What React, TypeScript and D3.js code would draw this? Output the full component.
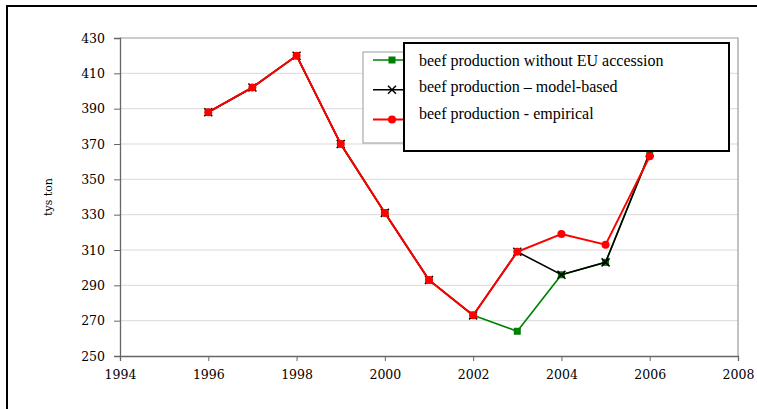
import React, { useRef, useEffect } from 'react';
import * as d3 from 'd3';

// years and series values (tys ton)
const years = [1996, 1997, 1998, 1999, 2000, 2001, 2002, 2003, 2004, 2005, 2006];
const withoutEU = [388, 402, 420, 370, 331, 293, 273, 264, 296, 303, 365];
const modelBased = [388, 402, 420, 370, 331, 293, 273, 309, 296, 303, 365];
const empirical = [388, 402, 420, 370, 331, 293, 273, 309, 319, 313, 363];

const xTicks = [1994, 1996, 1998, 2000, 2002, 2004, 2006, 2008];
const yTicks = [250, 270, 290, 310, 330, 350, 370, 390, 410, 430];

const legendLabels = [
  'beef production without EU accession',
  'beef production \u2013 model-based',
  'beef production - empirical',
];

const W = 757;
const H = 409;

const App: React.FC = () => {
  const svgRef = useRef<SVGSVGElement | null>(null);

  useEffect(() => {
    const svg = d3.select(svgRef.current);
    svg.selectAll('*').remove();

    const x = d3.scaleLinear().domain([1994, 2008]).range([120, 738]);
    const y = d3.scaleLinear().domain([250, 430]).range([356, 38]);

    // outer frame (left + top only visible)
    svg.append('path')
      .attr('d', `M7,${H} L7,6 L${W},6`)
      .attr('fill', 'none')
      .attr('stroke', '#000')
      .attr('stroke-width', 2);

    // gridlines
    svg.append('g')
      .selectAll('line')
      .data(yTicks.filter((t) => t !== 250 && t !== 430))
      .join('line')
      .attr('x1', x(1994))
      .attr('x2', x(2008))
      .attr('y1', (d) => y(d))
      .attr('y2', (d) => y(d))
      .attr('stroke', '#d9d9d9')
      .attr('stroke-width', 1);

    // top + right border of plot
    svg.append('path')
      .attr('d', `M${x(1994)},${y(430)} L${x(2008)},${y(430)} L${x(2008)},${y(250)}`)
      .attr('fill', 'none')
      .attr('stroke', '#9a9a9a')
      .attr('stroke-width', 1.2);

    const yAxis = svg.append('g')
      .attr('transform', `translate(${x(1994)},0)`)
      .call(d3.axisLeft(y).tickValues(yTicks).tickSize(6).tickPadding(9).tickFormat(d3.format('d')));
    const xAxis = svg.append('g')
      .attr('transform', `translate(0,${y(250)})`)
      .call(d3.axisBottom(x).tickValues(xTicks).tickSize(5).tickPadding(9).tickFormat(d3.format('d')));

    [yAxis, xAxis].forEach((g) => {
      g.select('.domain').attr('stroke', '#666').attr('stroke-width', 1.3);
      g.selectAll('.tick line').attr('stroke', '#666');
      g.selectAll('.tick text')
        .attr('fill', '#000')
        .attr('font-family', 'DejaVu Serif')
        .attr('font-size', 12.5);
    });

    svg.append('text')
      .attr('transform', `translate(52,197) rotate(-90)`)
      .attr('text-anchor', 'middle')
      .attr('font-family', 'DejaVu Serif')
      .attr('font-size', 11)
      .text('tys ton');

    const line = (vals: number[]) =>
      d3.line<number>()
        .x((_, i) => x(years[i]))
        .y((d) => y(d))(vals);

    const drawSquare = (g: d3.Selection<SVGGElement, unknown, null, undefined>, cx: number, cy: number) =>
      g.append('rect')
        .attr('x', cx - 3.5).attr('y', cy - 3.5)
        .attr('width', 7).attr('height', 7)
        .attr('fill', '#008000');
    const drawCross = (g: d3.Selection<SVGGElement, unknown, null, undefined>, cx: number, cy: number) =>
      g.append('path')
        .attr('d', `M${cx - 4},${cy - 4}L${cx + 4},${cy + 4}M${cx - 4},${cy + 4}L${cx + 4},${cy - 4}`)
        .attr('stroke', '#000')
        .attr('stroke-width', 1.5);
    const drawCircle = (g: d3.Selection<SVGGElement, unknown, null, undefined>, cx: number, cy: number) =>
      g.append('circle')
        .attr('cx', cx).attr('cy', cy)
        .attr('r', 4)
        .attr('fill', '#ff0000');

    const series = [
      { vals: withoutEU, color: '#008000', width: 1.6, marker: drawSquare },
      { vals: modelBased, color: '#000000', width: 1.6, marker: drawCross },
      { vals: empirical, color: '#ff0000', width: 2, marker: drawCircle },
    ];

    const plot = svg.append('g');
    series.forEach((s) => {
      plot.append('path')
        .attr('d', line(s.vals))
        .attr('fill', 'none')
        .attr('stroke', s.color)
        .attr('stroke-width', s.width);
      const mg = plot.append('g');
      s.vals.forEach((v, i) => s.marker(mg, x(years[i]), y(v)));
    });

    // Excel legend (partly hidden)
    const leg = svg.append('g');
    leg.append('rect')
      .attr('x', 363).attr('y', 52)
      .attr('width', 360).attr('height', 91)
      .attr('fill', '#fff')
      .attr('stroke', '#9a9a9a')
      .attr('stroke-width', 1);
    series.forEach((s, i) => {
      const ly = 60 + i * 29.7;
      leg.append('line')
        .attr('x1', 373).attr('x2', 410)
        .attr('y1', ly).attr('y2', ly)
        .attr('stroke', s.color)
        .attr('stroke-width', s.width);
      const mg = leg.append('g');
      s.marker(mg, 392, ly);
    });

    // overlay box with legend text
    const box = svg.append('g');
    box.append('rect')
      .attr('x', 404).attr('y', 43)
      .attr('width', 325).attr('height', 108)
      .attr('fill', '#fff')
      .attr('stroke', '#000')
      .attr('stroke-width', 2);
    box.selectAll('text')
      .data(legendLabels)
      .join('text')
      .attr('x', 419)
      .attr('y', (_, i) => 65.5 + i * 26.6)
      .attr('font-family', 'Liberation Serif')
      .attr('font-size', 16)
      .attr('fill', '#000')
      .text((d) => d);
  }, []);

  return (
    <svg
      ref={svgRef}
      width={W}
      height={H}
      style={{ position: 'absolute', left: 0, top: 0, background: '#fff' }}
    />
  );
};

export default App;
